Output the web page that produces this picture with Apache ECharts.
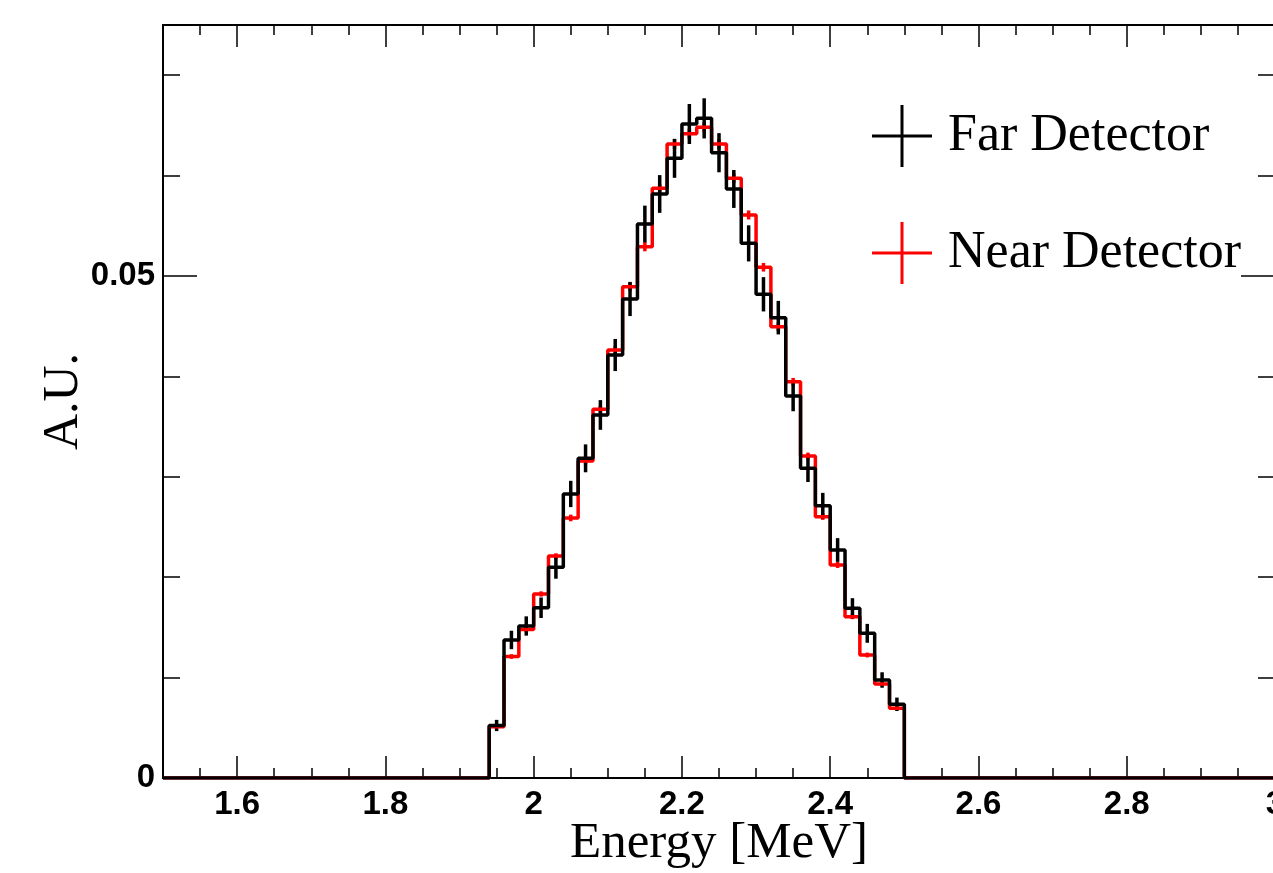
<!DOCTYPE html>
<html>
<head>
<meta charset="utf-8">
<script src="https://cdn.jsdelivr.net/npm/echarts@6.0.0/dist/echarts.min.js"></script>
<style>
html,body{margin:0;padding:0;background:#fff;}
#main{width:1273px;height:873px;}
</style>
</head>
<body>
<div id="main"></div>
<script>
// bin edges in MeV (0.02 wide bins)
var binEdges = [1.94, 1.96, 1.98, 2.00, 2.02, 2.04, 2.06, 2.08, 2.10, 2.12, 2.14, 2.16, 2.18, 2.20, 2.22,
                2.24, 2.26, 2.28, 2.30, 2.32, 2.34, 2.36, 2.38, 2.40, 2.42, 2.44, 2.46, 2.48, 2.50];
var farValues = [0.00523, 0.01375, 0.01514, 0.01696, 0.02098, 0.02829, 0.03184, 0.03616, 0.04213, 0.04771,
                 0.05518, 0.05817, 0.06172, 0.06514, 0.06570, 0.06228, 0.05867, 0.05325, 0.04818, 0.04585,
                 0.03805, 0.03085, 0.02712, 0.02271, 0.01690, 0.01441, 0.00976, 0.00734];
var farErrors = [0.00056, 0.00092, 0.00096, 0.00102, 0.00113, 0.00131, 0.00139, 0.00148, 0.0016, 0.0017,
                 0.00183, 0.00188, 0.00194, 0.00199, 0.0020, 0.00195, 0.00189, 0.0018, 0.00171, 0.00167,
                 0.00152, 0.00137, 0.00128, 0.00118, 0.00101, 0.00094, 0.00077, 0.00067];
var nearValues = [0.0051, 0.0121, 0.0148, 0.01833, 0.0221, 0.0259, 0.03157, 0.03672, 0.04263, 0.04894,
                  0.05292, 0.05873, 0.06315, 0.06418, 0.06481, 0.06315, 0.05973, 0.05608, 0.05087, 0.04495,
                  0.03947, 0.03207, 0.02603, 0.02122, 0.01607, 0.01225, 0.00936, 0.00694];
var nearErrors = [0.00015, 0.00023, 0.00024, 0.00026, 0.00028, 0.00033, 0.00035, 0.00037, 0.0004, 0.00043,
                  0.00046, 0.00047, 0.00049, 0.0005, 0.0005, 0.00049, 0.00047, 0.00045, 0.00043, 0.00042,
                  0.00038, 0.00034, 0.00032, 0.0003, 0.00025, 0.00024, 0.00019, 0.00017];
var xRange = [1.5, 3.0];
var yRange = [0, 0.075];

var myChart = echarts.init(document.getElementById('main'));

function stepData(vals){
    var d = [[xRange[0], 0]];
    for (var i = 0; i < vals.length; i++) {
        d.push([binEdges[i], vals[i]]);
    }
    d.push([binEdges[vals.length], 0]);
    d.push([xRange[1], 0]);
    return d;
}
function errData(vals, errs){
    return vals.map(function(v, i){
        return [(binEdges[i] + binEdges[i + 1]) / 2, v, errs[i]];
    });
}
function errBar(color){
    return function(params, api){
        var x = api.value(0), y = api.value(1), e = api.value(2);
        var a = api.coord([x, y + e]);
        var b = api.coord([x, y - e]);
        return {
            type: 'line',
            shape: {x1: a[0], y1: a[1], x2: b[0], y2: b[1]},
            style: {stroke: color, lineWidth: 3.5}
        };
    };
}

var tickLine = {color: '#000', width: 1.5};
var crossIcon = 'path://M0,29.5 L60,29.5 L60,32.5 L0,32.5 Z M28.5,0 L31.5,0 L31.5,62 L28.5,62 Z';

var option = {
    backgroundColor: '#fff',
    animation: false,
    grid: {
        left: 163, top: 25, width: 1112, height: 753,
        outerBoundsMode: 'none', containLabel: false,
        show: true, borderColor: '#000', borderWidth: 2, backgroundColor: 'transparent'
    },
    legend: {
        orient: 'vertical',
        left: 867, top: 100,
        itemWidth: 60, itemHeight: 62, itemGap: 55,
        textStyle: {fontFamily: 'Liberation Serif', fontSize: 52, color: '#000', padding: [0, 0, 0, 11]},
        data: [
            {name: 'Far Detector', icon: crossIcon},
            {name: 'Near Detector', icon: crossIcon}
        ]
    },
    xAxis: [
        {
            type: 'value', position: 'bottom', min: xRange[0], max: xRange[1], splitNumber: 7,
            axisLine: {show: false, onZero: false},
            axisTick: {inside: true, length: 22, lineStyle: tickLine},
            splitLine: {show: false},
            axisLabel: {
                showMinLabel: false, margin: 10, color: '#000',
                fontFamily: 'Liberation Sans', fontWeight: 'bold', fontSize: 33
            },
            name: 'Energy [MeV]', nameLocation: 'middle', nameGap: 40, nameMoveOverlap: false,
            nameTextStyle: {fontFamily: 'Liberation Serif', fontSize: 51, color: '#000'}
        },
        {
            type: 'value', position: 'bottom', min: xRange[0], max: xRange[1], interval: 0.05,
            axisLine: {show: false, onZero: false},
            axisTick: {inside: true, length: 10, lineStyle: tickLine},
            splitLine: {show: false}, axisLabel: {show: false}
        },
        {
            type: 'value', position: 'top', min: xRange[0], max: xRange[1], splitNumber: 7,
            axisLine: {show: false, onZero: false},
            axisTick: {inside: true, length: 22, lineStyle: tickLine},
            splitLine: {show: false}, axisLabel: {show: false}
        },
        {
            type: 'value', position: 'top', min: xRange[0], max: xRange[1], interval: 0.05,
            axisLine: {show: false, onZero: false},
            axisTick: {inside: true, length: 10, lineStyle: tickLine},
            splitLine: {show: false}, axisLabel: {show: false}
        }
    ],
    yAxis: [
        {
            type: 'value', position: 'left', min: yRange[0], max: yRange[1], interval: 0.05,
            axisLine: {show: false, onZero: false},
            axisTick: {inside: true, length: 34, lineStyle: tickLine},
            splitLine: {show: false},
            axisLabel: {
                showMaxLabel: false, margin: 8, color: '#000',
                fontFamily: 'Liberation Sans', fontWeight: 'bold', fontSize: 33
            },
            name: 'A.U.', nameLocation: 'middle', nameGap: 74, nameRotate: 90, nameMoveOverlap: false,
            nameTextStyle: {fontFamily: 'Liberation Serif', fontSize: 50, color: '#000'}
        },
        {
            type: 'value', position: 'left', min: yRange[0], max: yRange[1], interval: 0.01,
            axisLine: {show: false, onZero: false},
            axisTick: {inside: true, length: 17, lineStyle: tickLine},
            splitLine: {show: false}, axisLabel: {show: false}
        },
        {
            type: 'value', position: 'right', min: yRange[0], max: yRange[1], interval: 0.05,
            axisLine: {show: false, onZero: false},
            axisTick: {inside: true, length: 34, lineStyle: tickLine},
            splitLine: {show: false}, axisLabel: {show: false}
        },
        {
            type: 'value', position: 'right', min: yRange[0], max: yRange[1], interval: 0.01,
            axisLine: {show: false, onZero: false},
            axisTick: {inside: true, length: 17, lineStyle: tickLine},
            splitLine: {show: false}, axisLabel: {show: false}
        }
    ],
    series: [
        {
            name: 'Near hist', type: 'line', step: 'end', symbol: 'none',
            lineStyle: {color: '#ff0000', width: 3.5}, itemStyle: {color: '#ff0000'},
            data: stepData(nearValues)
        },
        {
            name: 'Near Detector', type: 'custom', itemStyle: {color: '#ff0000'},
            renderItem: errBar('#ff0000'), encode: {x: 0, y: 1},
            data: errData(nearValues, nearErrors)
        },
        {
            name: 'Far hist', type: 'line', step: 'end', symbol: 'none',
            lineStyle: {color: '#000', width: 3.5}, itemStyle: {color: '#000'},
            data: stepData(farValues)
        },
        {
            name: 'Far Detector', type: 'custom', itemStyle: {color: '#000'},
            renderItem: errBar('#000'), encode: {x: 0, y: 1},
            data: errData(farValues, farErrors)
        }
    ]
};
myChart.setOption(option);
</script>
</body>
</html>
